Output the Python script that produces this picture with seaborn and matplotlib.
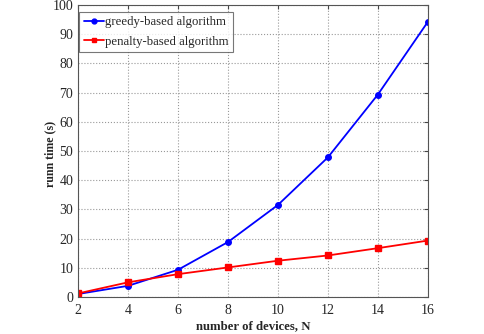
import matplotlib
matplotlib.use("Agg")
import matplotlib.pyplot as plt
import seaborn as sns
import pandas as pd

# data
devices = [2, 4, 6, 8, 10, 12, 14, 16]
greedy_time = [1.0, 3.8, 9.3, 18.8, 31.5, 47.8, 69.3, 94.2]
penalty_time = [1.2, 5.0, 7.8, 10.1, 12.4, 14.2, 16.7, 19.3]

df = pd.DataFrame({
    "N": devices * 2,
    "time": greedy_time + penalty_time,
    "method": ["greedy-based algorithm"] * len(devices) + ["penalty-based algorithm"] * len(devices),
})

sns.set_style("white")
plt.rcParams["font.family"] = ["Liberation Serif", "DejaVu Serif"]

fig = plt.figure(figsize=(4.85, 3.34), dpi=100)
ax = fig.add_axes([0.161, 0.111, 0.721, 0.874])

colors = {"greedy-based algorithm": "#0000ff", "penalty-based algorithm": "#ff0000"}
sns.lineplot(data=df, x="N", y="time", hue="method", style="method",
             palette=colors,
             markers={"greedy-based algorithm": "o", "penalty-based algorithm": "s"},
             dashes=False, markersize=4, linewidth=1.3, markeredgewidth=1.0,
             ax=ax)
for line in ax.lines:
    line.set_markeredgecolor(line.get_color())

ax.set_xlim(2, 16)
ax.set_ylim(0, 100)
ax.set_xticks(range(2, 17, 2))
ax.set_yticks(range(0, 101, 10))
ax.grid(True, linestyle=":", color="#999999", linewidth=0.8)
ax.tick_params(direction="in", top=True, right=True, labelsize=10, length=3, color="#444444")
ax.tick_params(axis="x", pad=5)
for s in ax.spines.values():
    s.set_color("#555555")
    s.set_linewidth(0.8)

ax.set_xlabel("number of devices, N", fontsize=9.2, fontweight="bold")
ax.set_ylabel("runn time (s)", fontsize=8.6, fontweight="bold")
ax.xaxis.set_label_coords(0.5, -0.078)
ax.yaxis.set_label_coords(-0.063, 0.49)

leg = ax.legend(loc="upper left", bbox_to_anchor=(0.003, 0.976), fontsize=9.2,
                frameon=True, fancybox=False, borderaxespad=0,
                borderpad=0.35, handlelength=1.6, handletextpad=0.1, labelspacing=0.55)
leg.get_frame().set_edgecolor("#555555")
leg.get_frame().set_linewidth(0.8)
for h in leg.legend_handles:
    h.set_markeredgecolor(h.get_color())
    h.set_markersize(3.5)

fig.savefig("out.png", dpi=100)
